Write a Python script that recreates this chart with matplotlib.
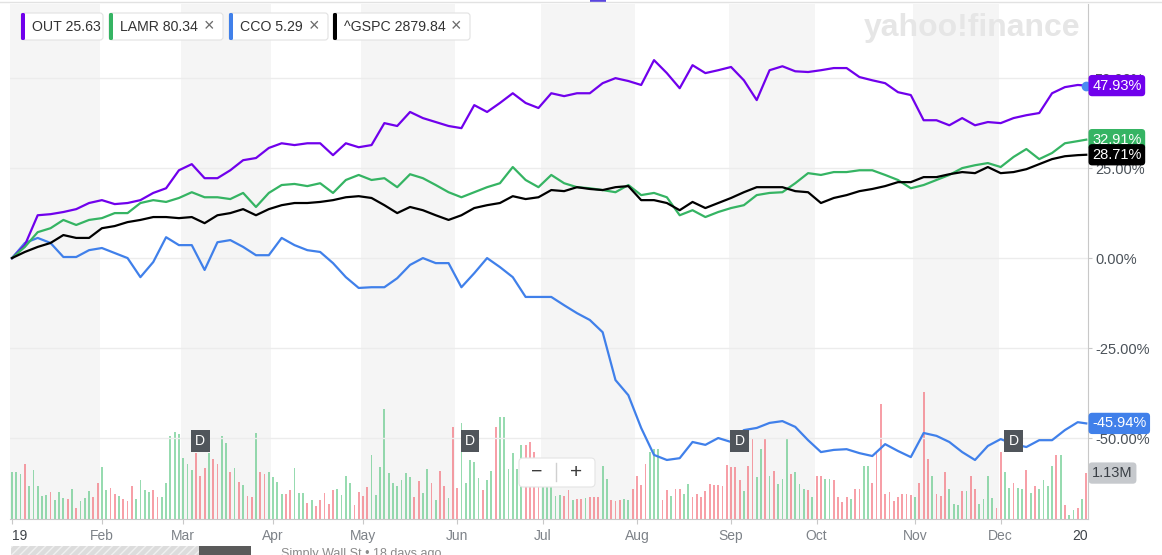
import numpy as np
import matplotlib
matplotlib.use('Agg')
import matplotlib.pyplot as plt
from matplotlib.patches import FancyBboxPatch, Rectangle
from matplotlib.lines import Line2D
from matplotlib.transforms import IdentityTransform

plt.rcParams['font.family'] = ['Liberation Sans', 'DejaVu Sans']

W, H = 1162, 555

# % change since 2 Jan 2019, read every 3 trading days (plus the last day)
days = list(range(0, 250, 3)) + [251]
out_pct = [0, 3.6, 11.9, 12.2, 12.8, 13.6, 15.3, 16.1, 15.0, 15.3,
           16.1, 18.1, 19.4, 24.4, 26.1, 22.2, 22.2, 24.4, 27.2, 27.8,
           30.6, 31.9, 31.4, 31.9, 31.9, 28.6, 31.9, 30.8, 31.4, 37.5,
           36.7, 40.6, 38.9, 37.8, 36.7, 36.1, 42.5, 40.6, 43.1, 45.8,
           43.1, 41.7, 45.8, 45.0, 45.8, 45.8, 48.6, 50.0, 49.2, 48.1,
           55.0, 51.4, 47.2, 53.6, 51.4, 52.2, 53.1, 49.4, 43.9, 52.2,
           53.3, 51.9, 51.7, 52.2, 52.8, 52.8, 50.3, 49.4, 48.6, 46.1,
           45.3, 38.3, 38.3, 36.9, 38.9, 36.9, 37.8, 37.5, 38.9, 39.7,
           40.3, 45.8, 47.5, 48.1, 47.93]
lamr_pct = [0, 3.1, 7.2, 8.3, 10.6, 9.2, 10.6, 11.1, 12.5, 12.5,
            15.3, 16.1, 15.6, 16.7, 18.3, 16.9, 16.9, 16.4, 18.1, 14.2,
            18.1, 20.3, 20.6, 20.0, 20.8, 18.1, 21.7, 23.1, 21.7, 22.2,
            19.7, 23.3, 22.2, 20.3, 18.3, 16.9, 18.3, 19.7, 20.8, 25.3,
            21.7, 19.7, 23.1, 20.8, 19.7, 19.4, 18.9, 18.3, 20.3, 17.5,
            18.1, 16.9, 11.9, 13.3, 11.4, 12.8, 13.9, 14.7, 17.5, 18.1,
            18.3, 20.8, 23.6, 23.1, 23.9, 23.9, 24.4, 24.4, 23.1, 21.7,
            19.4, 20.3, 21.7, 23.1, 25.0, 25.8, 26.4, 25.3, 28.1, 30.3,
            27.5, 29.2, 31.9, 32.5, 32.91]
cco_pct = [0, 4.2, 5.6, 4.2, 0.3, 0.3, 2.2, 2.8, 1.4, 0,
           -5.3, -1.1, 5.8, 3.6, 3.6, -3.3, 4.4, 5.0, 3.1, 0.8,
           0.8, 5.6, 3.6, 2.2, 1.7, -1.4, -5.3, -8.3, -8.1, -8.1,
           -5.6, -1.9, 0, -1.4, -1.4, -8.1, -4.2, 0, -2.5, -5.3,
           -10.8, -10.8, -10.8, -13.1, -15.3, -17.2, -20.6, -33.9, -38.1, -47.2,
           -54.7, -56.1, -55.6, -51.1, -51.9, -50.0, -51.1, -47.8, -47.2, -45.8,
           -45.3, -46.9, -50.6, -53.9, -53.3, -53.1, -54.2, -55.0, -51.7, -53.6,
           -55.3, -48.6, -49.4, -51.1, -53.9, -56.1, -52.2, -50.3, -51.7, -52.5,
           -50.6, -50.6, -47.8, -45.6, -45.94]
gspc_pct = [0, 1.7, 3.1, 4.2, 6.4, 5.6, 5.6, 8.3, 8.9, 10.0,
            10.6, 11.4, 11.4, 11.1, 11.4, 9.7, 11.9, 12.5, 13.6, 11.9,
            13.6, 14.7, 15.3, 15.3, 15.6, 16.1, 16.9, 17.2, 16.7, 14.7,
            12.5, 14.2, 13.3, 11.9, 10.6, 11.9, 13.9, 14.7, 15.3, 17.2,
            16.4, 16.9, 18.9, 18.6, 19.7, 19.2, 18.9, 19.7, 20.0, 16.1,
            16.1, 15.3, 13.3, 15.6, 13.9, 15.3, 16.7, 18.3, 19.7, 19.7,
            19.7, 18.6, 18.3, 15.3, 16.7, 17.5, 18.6, 19.2, 20.0, 21.1,
            21.1, 22.5, 22.5, 23.3, 23.9, 23.6, 25.3, 23.6, 23.9, 24.7,
            26.1, 27.5, 28.3, 28.6, 28.71]

# daily OUT volume (millions) and day direction (G up / R down)
volume = [1.16, 1.16, 1.11, 1.35, 0.81, 1.21, 0.81, 0.57, 0.59, 0.66,
          0.47, 0.66, 0.51, 0.49, 0.75, 0.28, 0.45, 0.52, 0.69, 0.54,
          0.88, 1.28, 0.71, 0.76, 0.61, 0.57, 0.49, 0.45, 0.82, 0.48,
          0.96, 0.71, 0.66, 0.71, 0.53, 0.53, 0.89, 2.04, 2.14, 2.09,
          1.49, 1.36, 1.20, 1.62, 1.06, 1.25, 1.63, 1.48, 1.36, 2.04,
          1.88, 1.16, 1.25, 0.91, 0.84, 0.57, 0.55, 2.12, 1.15, 1.11,
          1.15, 1.03, 0.91, 0.61, 0.61, 0.71, 1.25, 0.63, 0.63, 0.39,
          0.47, 0.33, 0.47, 0.63, 0.36, 0.71, 0.73, 0.58, 1.07, 0.88,
          0.34, 0.66, 0.57, 0.78, 1.57, 0.59, 1.28, 2.71, 1.14, 0.89,
          0.81, 0.96, 1.14, 1.03, 0.54, 0.93, 0.65, 1.23, 0.88, 0.47,
          1.17, 0.81, 0.51, 2.26, 0.76, 2.35, 0.89, 1.44, 1.41, 1.00,
          0.71, 0.96, 1.19, 2.26, 2.50, 2.50, 1.23, 1.63, 1.23, 1.82,
          1.82, 1.90, 1.64, 1.04, 0.80, 0.80, 0.80, 0.57, 0.59, 0.57,
          0.71, 0.47, 0.49, 0.49, 0.52, 0.54, 0.54, 0.54, 1.30, 0.99,
          0.46, 0.44, 0.46, 0.50, 0.46, 0.73, 1.05, 0.83, 1.35, 1.65,
          1.73, 1.73, 0.46, 0.72, 0.57, 0.73, 0.73, 0.62, 0.87, 0.54,
          0.62, 0.54, 0.68, 0.87, 0.83, 0.83, 0.80, 1.32, 1.28, 1.28,
          0.95, 0.68, 1.30, 1.99, 1.03, 1.73, 1.98, 1.05, 1.18, 0.87,
          0.99, 1.98, 1.11, 1.16, 0.87, 0.75, 0.72, 0.54, 1.07, 1.07,
          0.99, 0.99, 0.95, 0.54, 0.42, 0.54, 0.50, 0.75, 0.75, 1.30,
          1.30, 0.89, 1.65, 2.84, 0.62, 0.66, 0.44, 0.54, 0.62, 0.62,
          0.58, 0.54, 0.89, 3.12, 1.48, 1.07, 0.62, 0.57, 1.16, 0.75,
          0.38, 0.34, 0.69, 0.70, 1.05, 0.75, 0.38, 0.48, 1.07, 0.52,
          0.27, 1.66, 1.16, 0.76, 0.89, 0.76, 0.75, 1.21, 0.64, 0.80,
          0.75, 0.97, 0.80, 1.30, 1.58, 1.58, 0.35, 0.09, 0.21, 0.27,
          0.50, 1.13]
direction = ("GGGRGGGGGR" "GGGRGRGGGR" "RGGRRGRRRG" "GGGRRGGGGG" "GGGRRRGRRG"
             "GRGRGRRGRR" "GGGGRRGGGR" "GRRRRRGGGG" "RRRRGGGGGG" "GGGGRRGGRG"
             "RRGRRGGGGG" "RGGRGGGGGG" "RRRRGGGGGR" "RGRRGRRRGG" "RRRGGRRRRG"
             "GGRRGRRGGR" "RRRRRRRRRR" "RGRRGGRGRG" "GGRGGGRGRR" "GGRRRRGRRG"
             "GRRRRRRRRR" "RGRRRGRRRG" "GGRGRRGGGG" "RRGGRGGRGR" "GGGGRGRGGR"
             "GR")

month_start = [0, 21, 40, 61, 82, 104, 124, 146, 168, 188, 211, 231]
month_labels = ['19', 'Feb', 'Mar', 'Apr', 'May', 'Jun', 'Jul', 'Aug',
                'Sep', 'Oct', 'Nov', 'Dec']
div_days = [44, 107, 170, 234]

tickers = ['OUT', 'LAMR', 'CCO', '^GSPC']
prices = ['25.63', '80.34', '5.29', '2879.84']
colors = ['#7000ec', '#35b463', '#4080ea', '#000000']

fig = plt.figure(figsize=(W / 100, H / 100), dpi=100)
fig.patch.set_facecolor('white')

def fx(px):
    return px / W

def fy(py):
    return 1 - py / H

ax = fig.add_axes([fx(10), fy(519), fx(1088) - fx(10), fy(4) - fy(519)])
ax.set_xlim(-0.47, 251.4)
ax.set_ylim(0, 12.67)

# month bands
bounds = month_start + [252]
for i in range(0, 12, 2):
    ax.axvspan(bounds[i] - 0.5, bounds[i + 1] - 0.5, color='#f5f5f5', lw=0, zorder=0)

# volume bars
bar_cols = ['#52c47c' if c == 'G' else '#f2606c' for c in direction]
ax.bar(np.arange(len(volume)), volume, width=0.42, color=bar_cols, alpha=0.6,
       linewidth=0, zorder=1)

for s in ['top', 'left', 'right']:
    ax.spines[s].set_visible(False)
ax.spines['bottom'].set_color('#c8c8c8')
ax.set_yticks([])
ax.set_xticks(month_start)
ax.set_xticklabels(month_labels)
ax.tick_params(axis='x', length=3.6, color='#c8c8c8', labelcolor='#7d8288',
               labelsize=10, pad=3.5)
lbls = ax.get_xticklabels()
lbls[0].set_ha('left')
lbls[0].set_color('#3e4349')
ax.annotate('20', xy=(1, 0), xycoords='axes fraction', xytext=(0, -7.1),
            textcoords='offset points', ha='right', va='top', fontsize=10,
            color='#3e4349', annotation_clip=False)

# line chart on a twin axis
axl = ax.twinx()
axl.set_ylim(-72.5, 70.6)
yt = [50, 25, 0, -25, -50]
for v in yt:
    axl.axhline(v, color='#ececec', lw=1, zorder=0)
axl.plot(days, cco_pct, color=colors[2], lw=1.6, zorder=3)
axl.plot(days, out_pct, color=colors[0], lw=1.6, zorder=3)
axl.plot(days, lamr_pct, color=colors[1], lw=1.6, zorder=3)
axl.plot(days, gspc_pct, color=colors[3], lw=1.6, zorder=4)
axl.plot(days[-1], out_pct[-1], 'o', color='#4a8cf2', ms=6, zorder=5)

axl.set_yticks(yt)
axl.set_yticklabels([f'{v:.2f}%' for v in yt])
axl.tick_params(axis='y', length=3, color='#c8c8c8', labelcolor='#4b5259',
                labelsize=10.5, pad=2)
for s in ['top', 'left', 'bottom']:
    axl.spines[s].set_visible(False)
axl.spines['right'].set_color('#c8c8c8')


def tag(axis, y, text, fc, tc='white'):
    axis.annotate(text, xy=(1, y), xycoords=axis.get_yaxis_transform(),
                  xytext=(3, 0), textcoords='offset points', ha='left', va='center',
                  fontsize=10.5, color=tc, annotation_clip=False, zorder=10,
                  bbox=dict(boxstyle='round,pad=0.25,rounding_size=0.25', fc=fc, ec='none'))


tag(axl, out_pct[-1], f'{out_pct[-1]:.2f}%', colors[0])
tag(axl, lamr_pct[-1], f'{lamr_pct[-1]:.2f}%', colors[1])
tag(axl, gspc_pct[-1], f'{gspc_pct[-1]:.2f}%', colors[3])
tag(axl, cco_pct[-1], f'{cco_pct[-1]:.2f}%', colors[2])
tag(ax, volume[-1], f'{volume[-1]:.2f}M', '#c6c9cd', '#3a3f45')

# dividend markers
for d in div_days:
    axl.annotate('D', xy=(d, 0.1515), xycoords=axl.get_xaxis_transform(),
                 ha='center', va='center', fontsize=10, color='white', zorder=11,
                 bbox=dict(boxstyle='square,pad=0.32', fc='#50555b', ec='none'))

# ---- page chrome (pixel coordinates) ----
T = IdentityTransform()

def box(x0, y0, x1, y1, **kw):
    p = FancyBboxPatch((x0, H - y1), x1 - x0, y1 - y0, transform=T, **kw)
    fig.add_artist(p)

def ptext(x, y, s, **kw):
    fig.text(fx(x), fy(y), s, **kw)

fig.add_artist(Line2D([0, W], [H - 2, H - 2], transform=T, color='#e2e2e2', lw=1))
fig.add_artist(Rectangle((590, H - 3), 16, 3, transform=T, color='#5a46e0', lw=0))

# legend chips
chips = [(21, 103), (109, 223), (229, 328), (333, 470)]
for i, (x0, x1) in enumerate(chips):
    box(x0, 13, x1, 40, boxstyle='round,pad=0,rounding_size=3', fc='white',
        ec='#e2e2e2', lw=0.8, zorder=20)
    box(x0, 13, x0 + 4, 40, boxstyle='round,pad=0,rounding_size=1.5', fc=colors[i],
        ec='none', zorder=21)
    ptext(x0 + 11, 27, f'{tickers[i]} {prices[i]}', fontsize=10.2, color='#333333',
          va='center', ha='left', zorder=22)
    if i > 0:
        ptext(x1 - 14, 27, '\u00d7', fontsize=13, color='#6b6b6b', va='center',
              ha='center', zorder=22)

ptext(864, 28, 'yahoo!finance', fontsize=23, fontweight='bold', color='#e6e6e6',
      va='center', ha='left', zorder=2)

# zoom control
box(519, 458, 595, 487, boxstyle='round,pad=0,rounding_size=4', fc='white',
    ec='#e4e4e4', lw=0.8, zorder=20)
ptext(537, 472, '\u2212', fontsize=14, color='#3c3c3c', va='center', ha='center', zorder=21)
ptext(576, 472, '+', fontsize=15, color='#3c3c3c', va='center', ha='center', zorder=21)
fig.add_artist(Line2D([556, 556], [H - 481, H - 463], transform=T, color='#d0d0d0',
                      lw=1, zorder=21))

# cut-off news strip at the bottom
fig.add_artist(Rectangle((11, 0), 188, 9, transform=T, fc='#dcdcdc', ec='#f0f0f0',
                         hatch='////', lw=0))
fig.add_artist(Rectangle((199, 0), 52, 9, transform=T, fc='#5a5a5a', lw=0))
ptext(281, 548, 'Simply Wall St \u2022 18 days ago', fontsize=9, color='#8a8a8a',
      va='top', ha='left')

fig.savefig('out.png', dpi=100)
